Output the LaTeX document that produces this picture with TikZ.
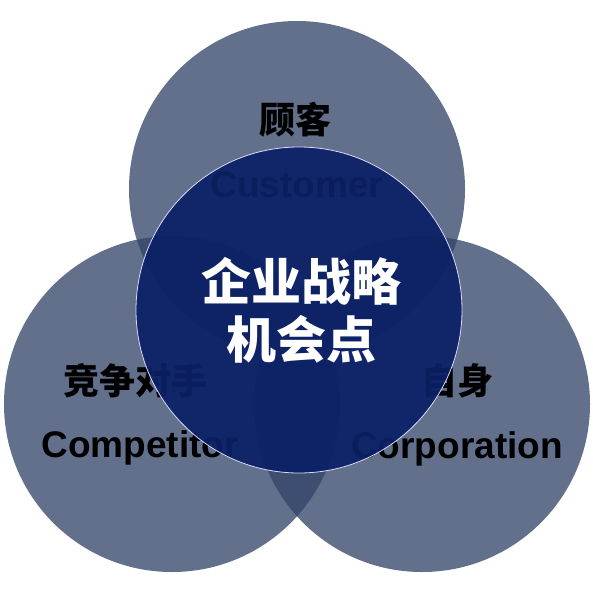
\documentclass[tikz,border=0pt]{standalone}
\usepackage{fontspec}
\newfontfamily\cjk{Noto Sans CJK SC}
\newfontfamily\latinb{Liberation Sans}
\definecolor{slate}{RGB}{51,69,106}
\definecolor{navy}{RGB}{11,32,101}
\begin{document}
\begin{tikzpicture}[x=1pt,y=-1pt,
  outer/.style={fill=slate,fill opacity=0.77,draw=none},
  inner/.style={fill=navy,fill opacity=0.92,draw=white!85!blue,line width=0.8pt},
  zh/.style={font=\cjk\bfseries\fontsize{36}{40}\selectfont,text=black,inner sep=0pt},
  en/.style={font=\latinb\bfseries\fontsize{37}{42}\selectfont,text=black,inner sep=0pt,anchor=base},
  core/.style={font=\cjk\bfseries\fontsize{50}{58}\selectfont,text=white,inner sep=0pt,align=center}]
\useasboundingbox (0,0) rectangle (593,591);
\fill[white] (0,0) rectangle (593,591);
% outer circles
\path[outer] (297,189) circle[radius=168];
\path[outer] (172,404) circle[radius=168];
\path[outer] (422,404) circle[radius=168];
% labels of outer circles
\node[zh] (gk) at (295,120) {顾客};
\node[en] (cu) at (297,197) {Customer};
\node[zh] (jz) at (135,381) {竞争对手};
\node[en] (cp) at (140,457) {Competitor};
\node[zh] (zs) at (457,381) {自身};
\node[en] (co) at (457,458) {Corporation};
% central circle
\path[inner] (299,310) circle[radius=163];
\node[core] (c1) at (301,281) {企业战略};
\node[core] (c2) at (301,339) {机会点};
\end{tikzpicture}
\end{document}
